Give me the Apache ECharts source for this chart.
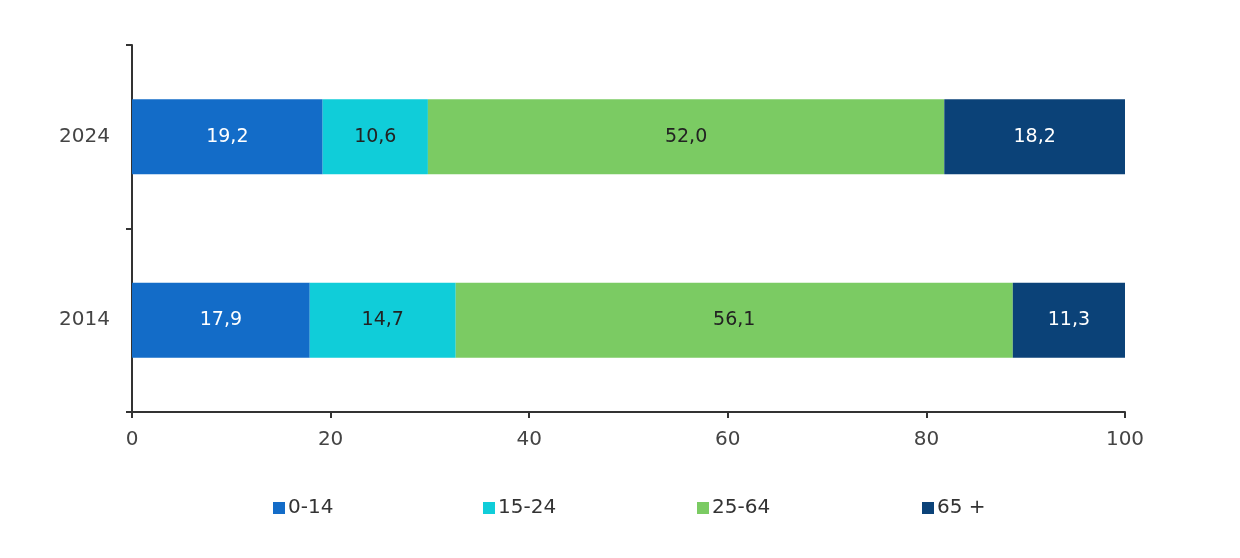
<!DOCTYPE html>
<html>
<head>
<meta charset="utf-8">
<script src="https://cdn.jsdelivr.net/npm/echarts@6/dist/echarts.min.js"></script>
<style>
html, body { margin: 0; padding: 0; background: #fff; }
#main { width: 1240px; height: 558px; }
</style>
</head>
<body>
<div id="main"></div>
<script>
var years = ['2014', '2024'];
var groups = ['0-14', '15-24', '25-64', '65 +'];
var age0to14 = [17.9, 19.2];
var age15to24 = [14.7, 10.6];
var age25to64 = [56.1, 52.0];
var age65plus = [11.3, 18.2];
var xTicks = [0, 20, 40, 60, 80, 100];

var colors = ['#136cc8', '#10cdd9', '#7bcb63', '#0b4278'];
var labelColors = ['#ffffff', '#222222', '#222222', '#ffffff'];
var legendLeft = [273, 483, 697, 922];
var font = 'DejaVu Sans';

var myChart = echarts.init(document.getElementById('main'));

function bar(name, data, i) {
	return {
		name: name,
		type: 'bar',
		stack: 'total',
		data: data,
		barWidth: 75,
		itemStyle: { color: colors[i] },
		label: {
			show: true,
			position: 'inside',
			color: labelColors[i],
			fontFamily: font,
			fontSize: 19,
			formatter: function(p) {
				return p.value.toFixed(1).replace('.', ','); // komma als decimaal
			}
		},
		emphasis: { disabled: true }
	};
}

// een legenda per item, zodat de posities kloppen
var legends = groups.map(function(g, i) {
	return {
		data: [g],
		top: 498,
		left: legendLeft[i],
		padding: 0,
		itemWidth: 12,
		itemHeight: 12,
		itemGap: 5,
		icon: 'rect',
		textStyle: { fontFamily: font, fontSize: 20, color: '#333', padding: [0, 0, 0, -2] }
	};
});

myChart.setOption({
	animation: false,
	grid: { left: 132, right: 115, top: 45, bottom: 146, containLabel: false },
	legend: legends,
	xAxis: {
		type: 'value',
		min: xTicks[0],
		max: xTicks[xTicks.length - 1],
		interval: 20,
		splitLine: { show: false },
		axisLine: { show: true, lineStyle: { color: '#333', width: 2 } },
		axisTick: { show: true, length: 6, lineStyle: { color: '#333', width: 2 } },
		axisLabel: { margin: 18, color: '#444', fontFamily: font, fontSize: 20 }
	},
	yAxis: {
		type: 'category',
		data: years,
		axisLine: { lineStyle: { color: '#333', width: 2 } },
		axisTick: { show: true, length: 6, lineStyle: { color: '#333', width: 2 } },
		axisLabel: { margin: 22, color: '#444', fontFamily: font, fontSize: 20 }
	},
	series: [
		bar(groups[0], age0to14, 0),
		bar(groups[1], age15to24, 1),
		bar(groups[2], age25to64, 2),
		bar(groups[3], age65plus, 3)
	]
});
</script>
</body>
</html>
